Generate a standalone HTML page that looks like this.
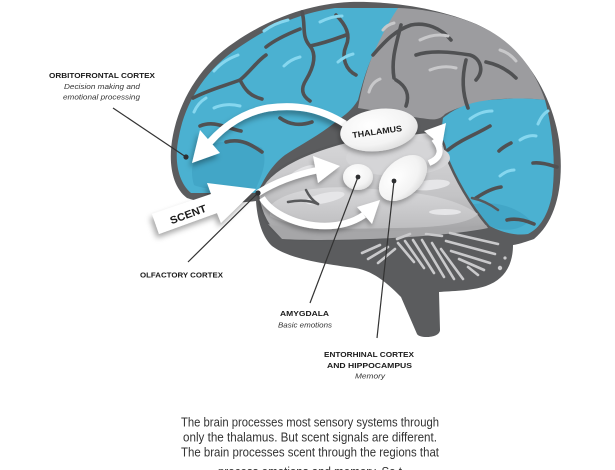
<!DOCTYPE html>
<html><head><meta charset="utf-8"><style>
html,body{margin:0;padding:0;background:#fff;}
svg{display:block;}
</style></head><body>
<svg width="615" height="470" viewBox="0 0 615 470" xmlns="http://www.w3.org/2000/svg">
<defs>
<filter id="sh" x="-40%" y="-40%" width="180%" height="180%"><feDropShadow dx="-2" dy="4" stdDeviation="3" flood-color="#000" flood-opacity="0.35"/></filter>
<filter id="sh2" x="-40%" y="-40%" width="180%" height="180%"><feDropShadow dx="-1" dy="3" stdDeviation="2.5" flood-color="#000" flood-opacity="0.3"/></filter>
<linearGradient id="limb" x1="0" y1="0" x2="0" y2="1"><stop offset="0" stop-color="#dadadc"/><stop offset="0.6" stop-color="#c3c3c5"/><stop offset="1" stop-color="#9c9c9e"/></linearGradient>
<linearGradient id="temp" x1="0" y1="0" x2="0" y2="1"><stop offset="0" stop-color="#d8d8da"/><stop offset="1" stop-color="#bdbdbf"/></linearGradient>
<radialGradient id="ell" cx="0.4" cy="0.35" r="0.75"><stop offset="0" stop-color="#ffffff"/><stop offset="0.65" stop-color="#f3f3f3"/><stop offset="1" stop-color="#d9d9d9"/></radialGradient>
</defs>

<path fill="#5b5c5e" d="M187,198 C171,186 168,160 173,135 C180,100 200,65 235,42 C270,18 310,4 350,2 C395,1 440,9 476,24 C521,44 551,90 559,140 C565,185 556,221 534,239 C523,243 515,245 513,245 C513,263 506,279 486,286 C471,291 451,291 439,292 L440,330 C440,338 420,339 417,334 L401,297 C390,286 375,271 355,268 C325,264 289,259 272,246 C261,236 257,216 256,201 C240,203 205,205 187,198 Z"/>

<path fill="#4bb1d1" d="M191,193 C177,181 174,158 179,136 C185,103 205,70 238,48 C268,27 300,13 335,8 L398,8 C392,25 381,40 373,55 C366,70 362,85 358,100 C352,110 345,115 338,120 C320,135 300,145 285,155 C272,165 264,178 258,193 Z"/>
<path fill="#9c9c9f" d="M398,8 C430,9 465,17 490,31 C516,46 535,70 545,100 C530,98 505,98 490,100 C470,104 455,108 445,114 C438,122 430,119 420,118 L358,108 C362,85 368,65 375,50 C382,35 390,20 398,8 Z"/>
<path fill="#4bb1d1" d="M545,100 C553,130 556,165 552,195 C548,215 540,228 528,234 C515,236 500,232 488,225 C475,210 462,190 452,170 C445,155 440,135 443,118 C455,108 470,102 490,100 C510,98 530,98 545,100 Z"/>

<g fill="#3d9dbf" opacity="0.55">
<path d="M200,150 C215,140 240,138 262,148 C268,160 262,175 256,188 C235,192 205,190 194,185 C190,172 192,160 200,150 Z"/>
<path d="M470,205 C490,200 515,205 530,220 C520,232 500,232 488,225 Z"/>
</g>

<g fill="none" stroke="#505153" stroke-width="3.6" stroke-linecap="round" stroke-linejoin="round">
<path d="M193,98 C208,90 224,86 240,80 C250,72 256,62 266,55"/>
<path d="M240,80 C245,90 250,96 262,99"/>
<path d="M266,47 C276,39 290,33 300,29"/>
<path d="M302,12 C306,25 301,36 310,46 C318,56 312,70 306,80 C301,88 301,95 310,101"/>
<path d="M310,46 C325,43 335,39 346,35"/>
<path d="M336,15 C346,25 351,35 346,46 C341,58 346,70 356,75"/>
<path d="M200,126 C214,120 226,128 241,131"/>
<path d="M226,142 C241,138 252,145 262,152"/>
<path d="M280,118 C290,125 300,126 312,122"/>
<path d="M373,55 C386,40 396,30 411,25 C426,22 441,28 451,40"/>
<path d="M401,25 C396,45 391,60 394,78"/>
<path d="M416,55 C431,50 451,52 470,55 C480,58 485,70 476,80"/>
<path d="M466,60 C461,80 463,95 468,108"/>
<path d="M486,62 C500,65 510,72 516,78"/>
<path d="M396,80 C406,86 410,95 406,106"/>
<path d="M533,163 C541,162 550,165 557,167"/>
<path d="M476,198 C485,192 493,188 501,187"/>
<path d="M507,220 C515,218 525,220 534,224"/>
<path d="M499,151 C503,147 507,145 511,143"/>
<path d="M448,150 C460,140 475,135 490,126"/>
</g>

<g fill="none" stroke="#86d7ef" stroke-width="3" stroke-linecap="round">
<path d="M214,71 C222,62 230,58 238,55"/>
<path d="M264,31 C272,25 280,22 288,20"/>
<path d="M320,22 C328,18 336,16 342,16"/>
<path d="M194,112 C197,105 201,101 206,98"/>
<path d="M284,66 C290,60 296,58 300,57"/>
<path d="M338,62 C344,57 349,55 353,54"/>
<path d="M214,108 C222,104 232,104 240,106"/>
<path d="M470,119 C478,113 486,111 492,111"/>
<path d="M500,176 C505,172 510,170 514,170"/>
<path d="M538,124 C541,117 544,113 548,111"/>
<path d="M520,140 C526,136 532,135 536,136"/>
</g>
<g fill="none" stroke="#c8c8ca" stroke-width="3" stroke-linecap="round">
<path d="M420,40 C430,35 440,34 448,36"/>
<path d="M500,50 C507,52 512,56 516,61"/>
<path d="M369,92 C371,85 375,81 380,79"/>
<path d="M430,70 C440,66 448,66 456,68"/>
<path d="M383,30 C386,26 390,24 394,23"/>
</g>

<path fill="url(#limb)" stroke="#58595b" stroke-width="2.5" d="M258,195 C262,182 275,170 295,160 C315,150 335,145 345,142 L425,132 C440,132 445,142 446,155 C455,178 470,205 488,226 C470,233 440,235 410,236 C370,239 320,241 285,239 C268,231 260,212 258,195 Z"/>
<ellipse cx="398" cy="158" rx="52" ry="18" fill="#d5d5d7"/>
<path fill="url(#temp)" d="M270,206 C285,190 325,184 372,189 C415,192 452,196 478,214 C468,225 430,228 390,228 C340,230 290,228 270,216 Z"/>
<path fill="#a6a6a8" d="M268,224 C300,234 400,234 486,225 L488,228 C440,238 330,242 282,239 Z"/>
<g fill="#e6e6e8">
<ellipse cx="325" cy="198" rx="20" ry="5" transform="rotate(-12 325 198)"/>
<ellipse cx="430" cy="185" rx="20" ry="5" transform="rotate(-6 430 185)"/>
<ellipse cx="302" cy="172" rx="14" ry="4" transform="rotate(-25 302 172)"/>
<ellipse cx="445" cy="212" rx="16" ry="3" />
</g>
<g fill="none" stroke="#58595b" stroke-width="2.5" stroke-linecap="round">
<path d="M288,202 C298,200 309,200 318,204"/>
<path d="M306,190 C309,196 312,200 318,204"/>
<path d="M472,198 C482,200 490,204 498,210"/>
</g>

<g fill="none" stroke="#c9c9cb" stroke-width="2.6" stroke-linecap="round">
<path d="M362,253 L380,245"/>
<path d="M368,259 L388,247"/>
<path d="M378,263 L395,249"/>
<path d="M398,243 L414,262"/>
<path d="M405,241 L424,268"/>
<path d="M413,240 L434,273"/>
<path d="M422,240 L444,277"/>
<path d="M432,243 L454,279"/>
<path d="M441,249 L463,279"/>
<path d="M450,233 L498,244"/>
<path d="M446,241 L495,254"/>
<path d="M451,251 L490,263"/>
<path d="M459,259 L484,270"/>
<path d="M468,267 L478,275"/>
<path d="M426,234 L442,236"/>
<path d="M397,239 L410,234"/>
</g>
<circle cx="500" cy="268" r="2.2" fill="#c9c9cb"/>
<circle cx="505" cy="258" r="1.6" fill="#c9c9cb"/>

<g filter="url(#sh)" fill="#fff">
<path fill="none" stroke="#fff" stroke-width="7" d="M345,124 C320,108 295,104 268,108 C245,112 225,125 210,142"/>
<polygon points="192,163 200,130 220,153"/>
</g>
<g filter="url(#sh2)" fill="#fff">
<path fill="none" stroke="#fff" stroke-width="6" d="M429,163 C441,158 443,150 434,139"/>
<polygon points="446,123 424,131 442,146"/>
</g>

<g filter="url(#sh2)">
<ellipse cx="379" cy="130" rx="39" ry="21" transform="rotate(-8 379 130)" fill="url(#ell)"/>
<ellipse cx="358" cy="177" rx="15" ry="13" fill="url(#ell)"/>
<ellipse cx="403" cy="178" rx="28" ry="18" transform="rotate(-42 403 178)" fill="url(#ell)"/>
</g>

<g filter="url(#sh2)" fill="#fff">
<path fill="none" stroke="#fff" stroke-width="6.5" d="M258,193 C274,183 294,175 318,170"/>
<polygon points="340,166 313,156 318,183"/>
<path fill="none" stroke="#fff" stroke-width="6.5" d="M262,198 C272,214 298,226 325,226 C342,226 355,221 364,215"/>
<polygon points="380,200 357,207 372,224"/>
</g>

<g filter="url(#sh)">
<polygon fill="#fff" points="152,214 159,234 217,213 221,223 256,189 207,183 211,194"/>
</g>
<text transform="translate(188,214) rotate(-20)" x="-19" y="4" font-family="Liberation Sans, sans-serif" font-weight="bold" font-size="10.5" fill="#1a1a1a" textLength="38" lengthAdjust="spacingAndGlyphs">SCENT</text>
<text transform="rotate(-8 377 131)" x="352" y="134.5" font-family="Liberation Sans, sans-serif" font-weight="bold" font-size="8.3" fill="#1a1a1a" textLength="50" lengthAdjust="spacingAndGlyphs">THALAMUS</text>

<g stroke="#333" stroke-width="1.2" fill="none">
<line x1="113" y1="108" x2="186" y2="157"/>
<line x1="258" y1="193" x2="188" y2="262"/>
<line x1="358" y1="177" x2="310" y2="303"/>
<line x1="394" y1="181" x2="377" y2="338"/>
</g>
<g fill="#2e2f31">
<circle cx="186" cy="157" r="2.6"/>
<circle cx="258" cy="193" r="2.6"/>
<circle cx="358" cy="177" r="2.4"/>
<circle cx="394" cy="181" r="2.4"/>
</g>

<g font-family="Liberation Sans, sans-serif" fill="#1a1a1a">
<text x="49" y="78" font-weight="bold" font-size="7.6" textLength="106" lengthAdjust="spacingAndGlyphs">ORBITOFRONTAL CORTEX</text>
<text x="64" y="89" font-style="italic" font-size="7.6" fill="#333" textLength="76" lengthAdjust="spacingAndGlyphs">Decision making and</text>
<text x="63" y="99.5" font-style="italic" font-size="7.6" fill="#333" textLength="77" lengthAdjust="spacingAndGlyphs">emotional processing</text>
<text x="140" y="277.5" font-weight="bold" font-size="7.6" textLength="83" lengthAdjust="spacingAndGlyphs">OLFACTORY CORTEX</text>
<text x="280" y="316" font-weight="bold" font-size="7.6" textLength="49" lengthAdjust="spacingAndGlyphs">AMYGDALA</text>
<text x="278" y="327.5" font-style="italic" font-size="7.6" fill="#333" textLength="54" lengthAdjust="spacingAndGlyphs">Basic emotions</text>
<text x="324" y="357" font-weight="bold" font-size="7.6" textLength="90" lengthAdjust="spacingAndGlyphs">ENTORHINAL CORTEX</text>
<text x="327" y="368" font-weight="bold" font-size="7.6" textLength="85" lengthAdjust="spacingAndGlyphs">AND HIPPOCAMPUS</text>
<text x="355" y="378.5" font-style="italic" font-size="7.6" fill="#333" textLength="30" lengthAdjust="spacingAndGlyphs">Memory</text>
</g>

<g font-family="Liberation Sans, sans-serif" font-size="12.5" fill="#333">
<text x="181" y="426.5" textLength="258" lengthAdjust="spacingAndGlyphs">The brain processes most sensory systems through</text>
<text x="183" y="441.5" textLength="254" lengthAdjust="spacingAndGlyphs">only the thalamus. But scent signals are different.</text>
<text x="181" y="456.5" textLength="258" lengthAdjust="spacingAndGlyphs">The brain processes scent through the regions that</text>
<text x="218" y="476" textLength="184" lengthAdjust="spacingAndGlyphs">process emotions and memory. So t</text>
</g>
</svg>
</body></html>
